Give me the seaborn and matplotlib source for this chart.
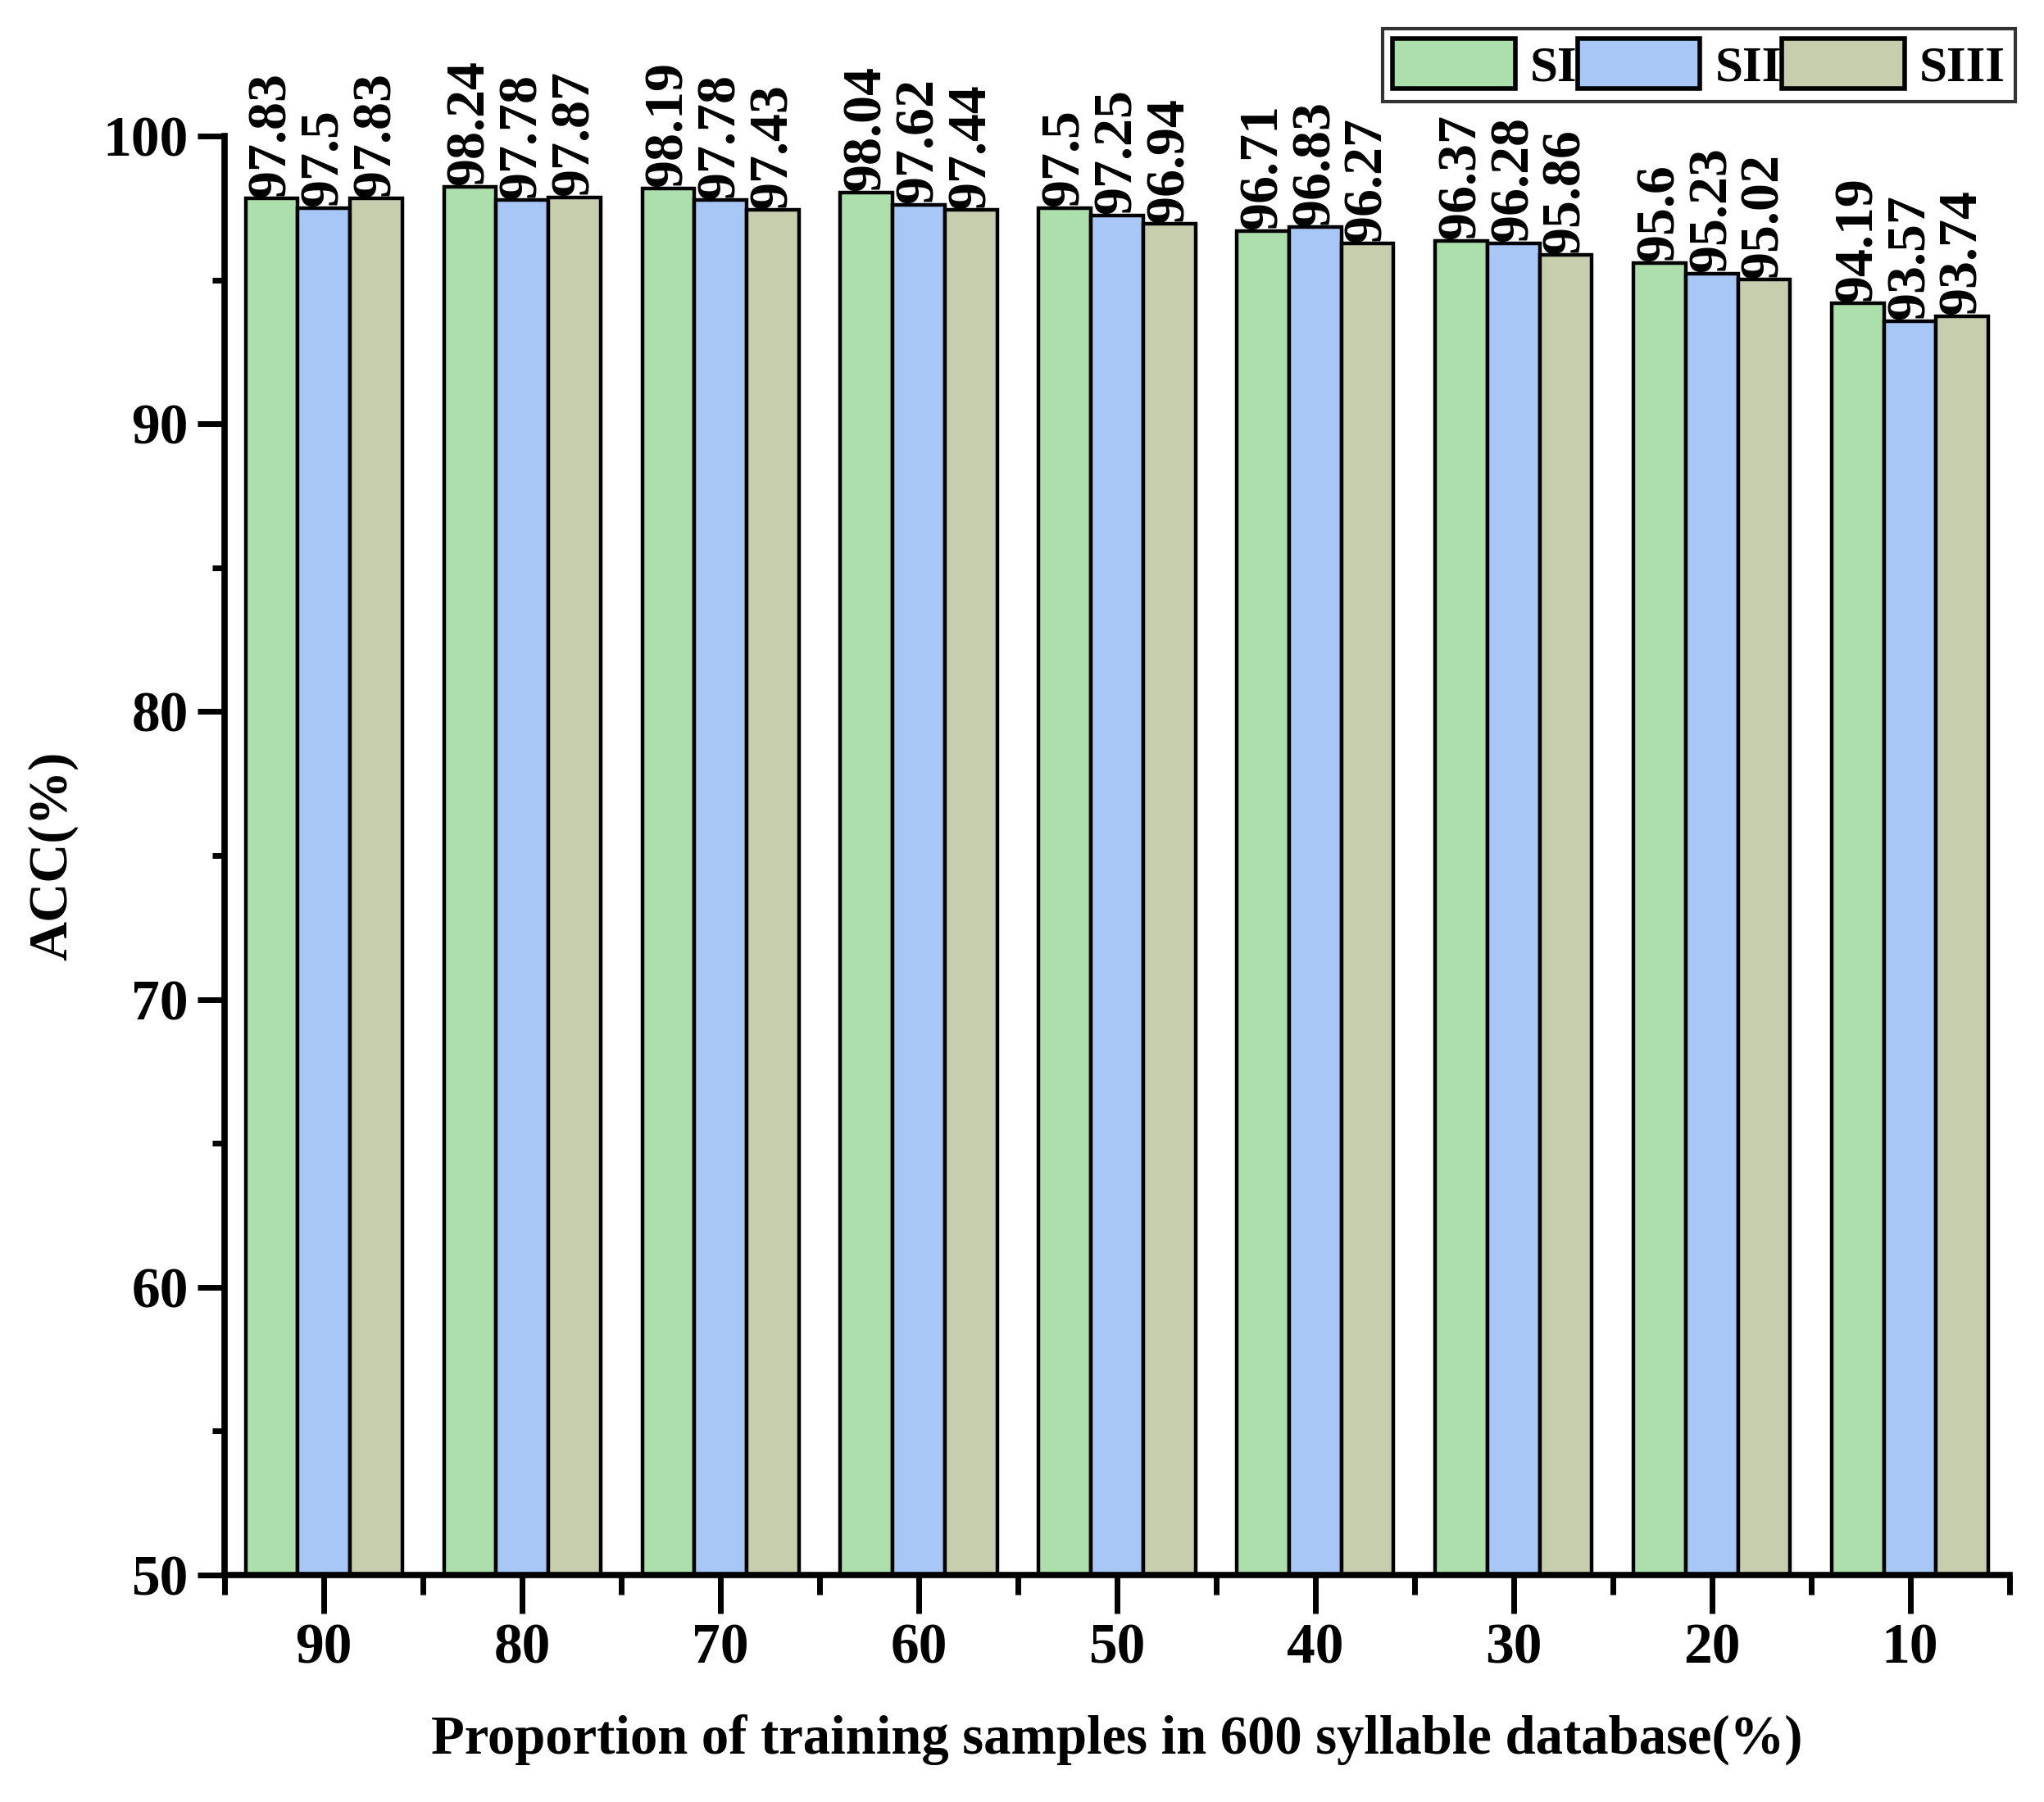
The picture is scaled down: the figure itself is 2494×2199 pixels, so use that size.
import pandas as pd
import numpy as np
import matplotlib
matplotlib.use("Agg")
import matplotlib.pyplot as plt
import matplotlib.patches as mpatches
from matplotlib.ticker import MultipleLocator, FixedLocator
import seaborn as sns

# data
proportions = ["90", "80", "70", "60", "50", "40", "30", "20", "10"]
acc_si = [97.83, 98.24, 98.19, 98.04, 97.5, 96.71, 96.37, 95.6, 94.19]
acc_sii = [97.5, 97.78, 97.78, 97.62, 97.25, 96.83, 96.28, 95.23, 93.57]
acc_siii = [97.83, 97.87, 97.43, 97.44, 96.94, 96.27, 95.86, 95.02, 93.74]
series = ["SI", "SII", "SIII"]
colors = ["#ADDFAD", "#A8C6F6", "#C7CEAD"]

df = pd.DataFrame({
    "Proportion": proportions * 3,
    "ACC": acc_si + acc_sii + acc_siii,
    "Series": [s for s in series for _ in proportions],
})

sns.set_style("ticks")
plt.rcParams["font.family"] = ["Liberation Serif", "DejaVu Serif"]
plt.rcParams["font.weight"] = "bold"
plt.rcParams["text.color"] = "black"
plt.rcParams["axes.labelcolor"] = "black"
plt.rcParams["axes.edgecolor"] = "black"
plt.rcParams["xtick.color"] = "black"
plt.rcParams["ytick.color"] = "black"

fig = plt.figure(figsize=(24.94, 21.99), dpi=100)
ax = fig.add_axes([0.110, 0.126, 0.873, 0.7985])

sns.barplot(
    data=df, x="Proportion", y="ACC", hue="Series",
    order=proportions, hue_order=series, palette=colors,
    edgecolor="black", linewidth=3.2, width=0.79,
    saturation=1, legend=False, ax=ax
)

# value labels
for cont, vals in zip(ax.containers, [acc_si, acc_sii, acc_siii]):
    ax.bar_label(cont, labels=[f"{v:g}" for v in vals], rotation=90,
                 padding=1, fontsize=49, fontweight="bold", color="black")

ax.set_ylim(50, 100)
ax.set_xlim(-0.5, 8.5)
ax.yaxis.set_major_locator(MultipleLocator(10))
ax.yaxis.set_minor_locator(MultipleLocator(5))
ax.xaxis.set_minor_locator(FixedLocator(np.arange(-0.5, 9.0, 1.0)))

for s in ["top", "right"]:
    ax.spines[s].set_visible(False)
for s in ["left", "bottom"]:
    ax.spines[s].set_linewidth(5.5)

ax.tick_params(axis="both", which="major", width=5, labelsize=50, pad=8)
ax.tick_params(axis="x", which="major", length=34)
ax.tick_params(axis="x", which="minor", length=17, width=5)
ax.tick_params(axis="y", which="major", length=24)
ax.tick_params(axis="y", which="minor", length=11, width=5)
for lab in ax.get_xticklabels() + ax.get_yticklabels():
    lab.set_fontweight("bold")

ax.set_xlabel("Proportion of training samples in 600 syllable database(%)",
              fontsize=48, fontweight="bold", labelpad=34)
ax.set_ylabel("ACC(%)", fontsize=48, fontweight="bold", labelpad=22)

handles = [mpatches.Patch(facecolor=c, edgecolor="black", linewidth=4, label=s)
           for c, s in zip(colors, series)]
leg = fig.legend(handles=handles, loc="upper right", bbox_to_anchor=(0.986, 0.984),
                 ncol=3, fontsize=44, frameon=True, fancybox=False,
                 handlelength=2.45, handleheight=1.15, handletextpad=0.3,
                 columnspacing=0.0, borderpad=0.2, borderaxespad=0)
leg.get_frame().set_edgecolor("black")
leg.get_frame().set_linewidth(3)
for t in leg.get_texts():
    t.set_fontweight("bold")

fig.savefig("out.png", dpi=100)
